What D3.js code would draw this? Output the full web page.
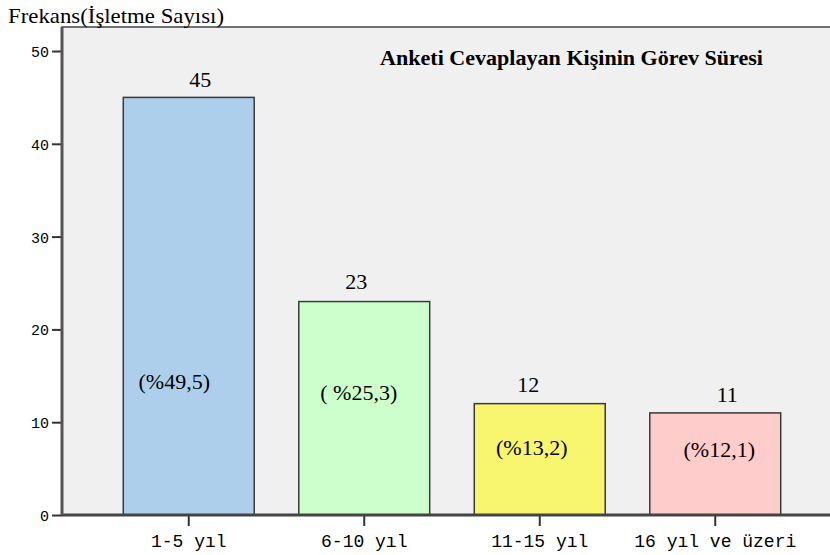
<!DOCTYPE html>
<html><head><meta charset="utf-8">
<script src="https://cdn.jsdelivr.net/npm/d3@7"></script>
<style>body{margin:0;background:#fff}svg{display:block}</style>
</head><body>
<script>
const categories = ["1-5 yıl", "6-10 yıl", "11-15 yıl", "16 yıl ve üzeri"];
const values = [45, 23, 12, 11];
const percentLabels = ["(%49,5)", "( %25,3)", "(%13,2)", "(%12,1)"];
const colors = ["#aecfec", "#ccffcc", "#f8f56f", "#ffcccc"];
const yTicks = [0, 10, 20, 30, 40, 50];
const title = "Anketi Cevaplayan Kişinin Görev Süresi";
const yTitle = "Frekans(İşletme Sayısı)";

(function () {
const W = 830, H = 555;
const svg = d3.select("body").append("svg").attr("width", W).attr("height", H);
const pL = 62, pT = 27, pR = 830, pB = 515;

const y = d3.scaleLinear().domain([0, 50]).range([pB, 51]);
const x = d3.scaleBand().domain(categories).range([101, 803]).paddingInner(0.254).paddingOuter(0.127);

svg.append("rect").attr("x", pL).attr("y", pT).attr("width", pR - pL + 2).attr("height", pB - pT)
  .attr("fill", "#f0f0f0").attr("stroke", "#444").attr("stroke-width", 1.5);

svg.append("text").attr("x", 8).attr("y", 23).attr("font-family", "Liberation Serif")
  .attr("font-size", 21).attr("textLength", 216).attr("lengthAdjust", "spacingAndGlyphs")
  .attr("fill", "#000").text(yTitle);

svg.append("text").attr("x", 380).attr("y", 65).attr("font-family", "Liberation Serif")
  .attr("font-weight", "bold").attr("font-size", 21).attr("textLength", 383).attr("lengthAdjust", "spacingAndGlyphs")
  .attr("fill", "#000").text(title);

const g = svg.append("g");
g.selectAll("rect.bar").data(values).join("rect").attr("class", "bar")
  .attr("x", (d, i) => x(categories[i])).attr("width", x.bandwidth())
  .attr("y", d => y(d)).attr("height", d => y(0) - y(d))
  .attr("fill", (d, i) => colors[i]).attr("stroke", "#3a3a3a").attr("stroke-width", 1.5);

const valDx = [11.5, -8, -11.5, 12];
const valDy = [10, 13, 12, 11];
g.selectAll("text.val").data(values).join("text").attr("class", "val")
  .attr("x", (d, i) => x(categories[i]) + x.bandwidth() / 2 + valDx[i])
  .attr("y", (d, i) => y(d) - valDy[i]).attr("text-anchor", "middle")
  .attr("font-family", "Liberation Serif").attr("font-size", 22).attr("fill", "#000").text(d => d);

const pctDx = [-14.5, -5.5, -8, 4];
const pctY = [389, 400, 455, 457];
g.selectAll("text.pct").data(values).join("text").attr("class", "pct")
  .attr("x", (d, i) => x(categories[i]) + x.bandwidth() / 2 + pctDx[i])
  .attr("y", (d, i) => pctY[i])
  .attr("text-anchor", "middle")
  .attr("font-family", "Liberation Serif").attr("font-size", 22).attr("fill", "#000").text((d, i) => percentLabels[i]);

const yAxis = d3.axisLeft(y).tickValues(yTicks).tickSize(10).tickPadding(3);
const ya = svg.append("g").attr("transform", `translate(${pL},0)`).call(yAxis);
ya.select(".domain").remove();
ya.selectAll("line").attr("stroke", "#333").attr("stroke-width", 2);
ya.selectAll("text").attr("font-family", "Liberation Mono").attr("font-size", 15).attr("fill", "#000").attr("dy", "0.36em");

const xAxis = d3.axisBottom(x).tickSize(11).tickPadding(6).tickSizeOuter(0);
const xa = svg.append("g").attr("transform", `translate(0,${pB})`).call(xAxis);
xa.select(".domain").remove();
xa.selectAll("line").attr("stroke", "#333").attr("stroke-width", 2);
xa.selectAll("text").attr("font-family", "Liberation Mono").attr("font-size", 18).attr("fill", "#000")
  .attr("dy", null).attr("y", 32);

svg.append("line").attr("x1", pL).attr("x2", pR).attr("y1", pB).attr("y2", pB).attr("stroke", "#444").attr("stroke-width", 3);
svg.append("line").attr("x1", pL).attr("x2", pL).attr("y1", pT).attr("y2", pB).attr("stroke", "#555").attr("stroke-width", 3);
})();
</script>
</body></html>
